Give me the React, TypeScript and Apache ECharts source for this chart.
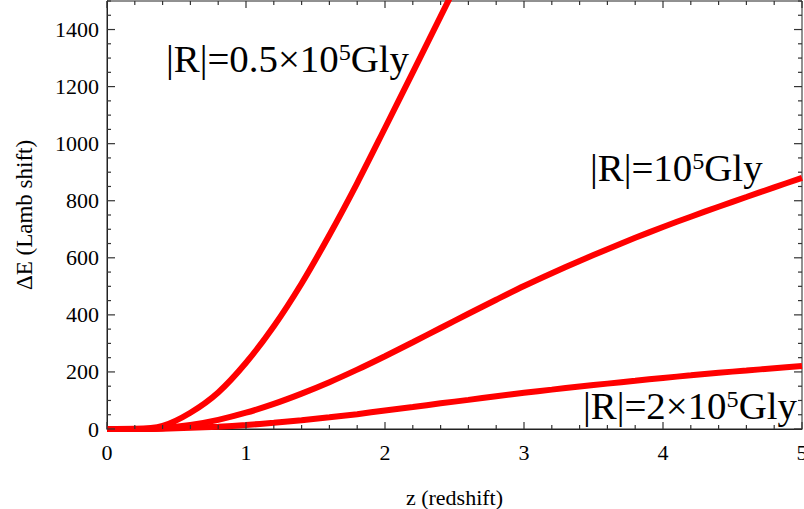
import React, { useEffect, useRef } from "react";
import * as echarts from "echarts";

// redshift grid
const zGrid = [0, 0.2, 0.4, 0.6, 0.8, 1.0, 1.2, 1.4, 1.6, 1.8, 2.0, 2.2, 2.4, 2.6, 2.8, 3.0, 3.2, 3.4, 3.6, 3.8, 4.0, 4.2, 4.4, 4.6, 4.8, 5.0];
// |R| = 0.5×10^5 Gly (leaves the frame near z≈2.45)
const eHalf = [0, 0.5, 11, 57, 128, 232, 360, 510, 680, 862, 1055, 1250, 1446, 1642];
// |R| = 10^5 Gly
const eOne = [0, 0, 3, 14, 32, 57, 88, 124, 164, 208, 255, 304, 354, 404, 453, 501, 546, 589, 630, 670, 708, 744, 779, 813, 847, 880];
// |R| = 2×10^5 Gly
const eTwo = [0, 0, 1, 4, 8, 14, 22, 31, 41, 52, 65, 77, 90, 102, 115, 127, 138, 149, 159, 169, 179, 188, 197, 205, 213, 221];

const xRange = [0, 5, 1];
const yRange = [0, 1500, 200];
// frame tick positions (major + minor)
const xTickVals = [0, 0.2, 0.4, 0.6, 0.8, 1, 1.2, 1.4, 1.6, 1.8, 2, 2.2, 2.4, 2.6, 2.8, 3, 3.2, 3.4, 3.6, 3.8, 4, 4.2, 4.4, 4.6, 4.8, 5];
const yTickVals = [0, 50, 100, 150, 200, 250, 300, 350, 400, 450, 500, 550, 600, 650, 700, 750, 800, 850, 900, 950, 1000, 1050, 1100, 1150, 1200, 1250, 1300, 1350, 1400, 1450, 1500];

const labels = [
  { pre: "|R|=0.5×10", sup: "5", post: "Gly", x: 166, y: 41 },
  { pre: "|R|=10", sup: "5", post: "Gly", x: 590, y: 150 },
  { pre: "|R|=2×10", sup: "5", post: "Gly", x: 583, y: 388 },
];

const FONT = "'Liberation Serif', 'Times New Roman', serif";
const AXIS_COLOR = "#222";
const TICK_COLOR = "#333";

function pairs(ys: number[]) {
  return ys.map((y, i) => [zGrid[i], y]);
}

function tickLine(x1: number, y1: number, x2: number, y2: number) {
  return { type: "line", shape: { x1, y1, x2, y2 }, style: { stroke: TICK_COLOR, lineWidth: 1.2 } };
}

export default function App() {
  const ref = useRef<HTMLDivElement>(null);
  useEffect(() => {
    document.body.style.margin = "0";
    const chart = echarts.init(ref.current!, undefined, { renderer: "svg" });
    const richStyle = {
      a: { fontSize: 37, fontFamily: FONT, fill: "#000", lineHeight: 37 },
      s: { fontSize: 23, fontFamily: FONT, fill: "#000", lineHeight: 19, verticalAlign: "top" },
    };
    const xTickData = xTickVals.map((z) => [z, yRange[0], Math.abs(z - Math.round(z)) < 1e-6 ? 1 : 0]);
    const yTickData = yTickVals.map((v) => [xRange[0], v, v % yRange[2] === 0 ? 1 : 0]);
    chart.setOption({
      animation: false,
      backgroundColor: "#fff",
      grid: {
        left: 107,
        right: 2,
        top: 1,
        bottom: 80,
        containLabel: false,
        outerBoundsMode: "none",
        show: true,
        borderColor: AXIS_COLOR,
        borderWidth: 1,
        backgroundColor: "transparent",
      },
      xAxis: {
        type: "value",
        min: xRange[0],
        max: xRange[1],
        interval: xRange[2],
        splitLine: { show: false },
        axisLine: { show: true, onZero: false, lineStyle: { color: AXIS_COLOR, width: 1 } },
        axisTick: { show: false },
        axisLabel: { show: true, fontFamily: FONT, fontSize: 22, color: "#000", margin: 12 },
        name: "z (redshift)",
        nameLocation: "middle",
        nameGap: 57,
        nameTextStyle: { fontFamily: FONT, fontSize: 22, color: "#000" },
      },
      yAxis: {
        type: "value",
        min: yRange[0],
        max: yRange[1],
        interval: yRange[2],
        splitLine: { show: false },
        axisLine: { show: true, onZero: false, lineStyle: { color: AXIS_COLOR, width: 1 } },
        axisTick: { show: false },
        axisLabel: {
          show: true,
          showMaxLabel: false,
          fontFamily: FONT,
          fontSize: 22,
          color: "#000",
          margin: 8,
          formatter: (v: number) => String(v),
        },
        name: "ΔE (Lamb shift)",
        nameLocation: "middle",
        nameGap: 71,
        nameTextStyle: { fontFamily: FONT, fontSize: 23, color: "#000" },
      },
      series: [
        ...[eHalf, eOne, eTwo].map((d) => ({
          type: "line",
          data: pairs(d),
          showSymbol: false,
          smooth: 0.3,
          clip: true,
          z: 3,
          lineStyle: { color: "#ff0000", width: 6 },
          itemStyle: { color: "#ff0000" },
        })),
        {
          type: "custom",
          silent: true,
          clip: false,
          z: 4,
          encode: { x: 0, y: 1 },
          data: xTickData,
          renderItem: (_params: any, api: any) => {
            const z = api.value(0);
            const len = api.value(2) === 1 ? 7 : 4;
            const b = api.coord([z, yRange[0]]);
            const t = api.coord([z, yRange[1]]);
            return {
              type: "group",
              children: [tickLine(b[0], b[1], b[0], b[1] - len), tickLine(t[0], t[1], t[0], t[1] + len)],
            };
          },
        },
        {
          type: "custom",
          silent: true,
          clip: false,
          z: 4,
          encode: { x: 0, y: 1 },
          data: yTickData,
          renderItem: (_params: any, api: any) => {
            const v = api.value(1);
            const len = api.value(2) === 1 ? 8 : 4;
            const l = api.coord([xRange[0], v]);
            const r = api.coord([xRange[1], v]);
            return {
              type: "group",
              children: [tickLine(l[0], l[1], l[0] + len, l[1]), tickLine(r[0], r[1], r[0] - len, r[1])],
            };
          },
        },
      ],
      graphic: labels.map((l) => ({
        type: "text",
        x: l.x,
        y: l.y,
        scaleX: 1.05,
        z: 100,
        style: {
          text: `{a|${l.pre}}{s|${l.sup}}{a|${l.post}}`,
          rich: richStyle,
          fill: "#000",
          fontFamily: FONT,
          fontSize: 37,
          align: "left",
          verticalAlign: "top",
        },
      })),
    });
    return () => chart.dispose();
  }, []);
  return <div ref={ref} style={{ position: "fixed", left: 0, top: 0, width: 804, height: 509 }} />;
}
